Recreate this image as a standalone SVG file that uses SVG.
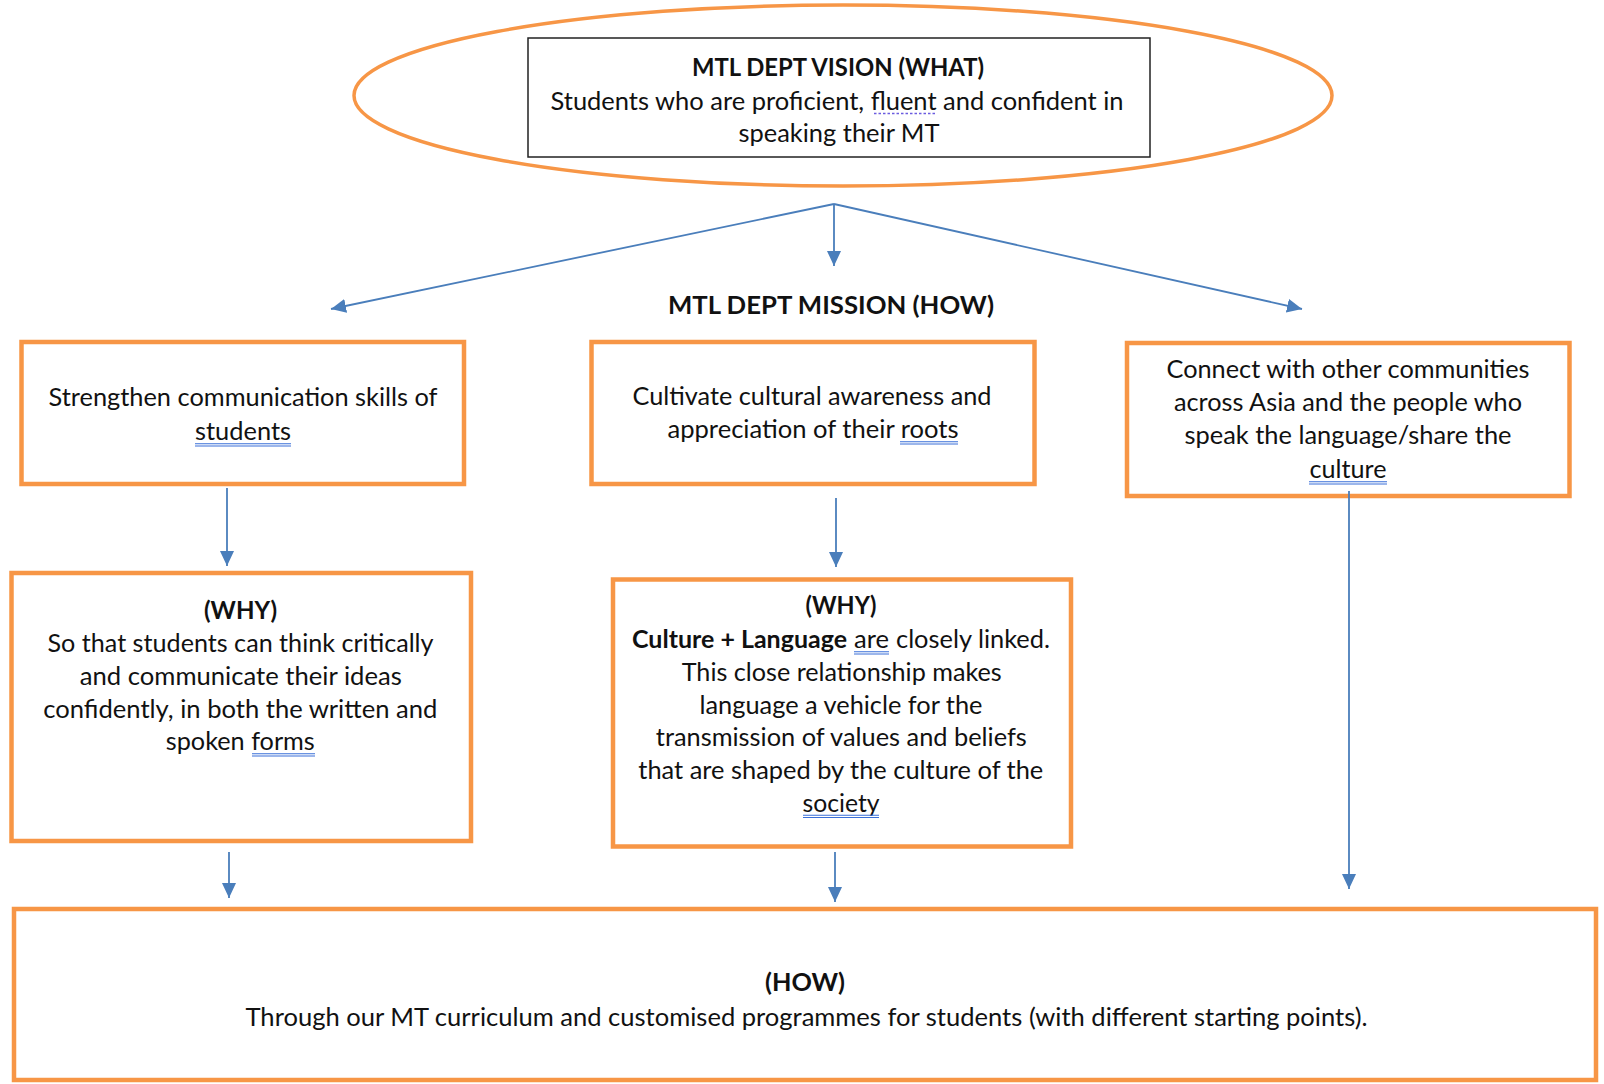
<svg xmlns="http://www.w3.org/2000/svg" width="1604" height="1084" viewBox="0 0 1604 1084">
<style>
.box{fill:#fff;stroke:#F79646;stroke-width:4.5}
.t{font-family:Lato,"Open Sans","Liberation Sans",sans-serif;font-size:25px;fill:#111;text-anchor:middle}
.b{font-weight:bold}
.s{text-anchor:start}
.ul{stroke:#3A6FD8;stroke-width:1.1;fill:none}
.con{stroke:#4A7EBB;stroke-width:1.8;fill:none;marker-end:url(#ah)}
</style>
<defs>
<marker id="ah" markerUnits="userSpaceOnUse" markerWidth="15" markerHeight="14" refX="15" refY="7" orient="auto">
<path d="M0,0 L15,7 L0,14 z" fill="#4A7EBB"/>
</marker>
</defs>
<rect width="1604" height="1084" fill="#fff"/>

<g id="vision">
<ellipse cx="843" cy="95.5" rx="489" ry="90.5" fill="#fff" stroke="#F79646" stroke-width="3.5"/>
<rect x="528" y="38" width="622" height="119" fill="#fff" stroke="#222" stroke-width="1.5"/>
<text class="t b" x="838" y="76" textLength="292" lengthAdjust="spacingAndGlyphs">MTL DEPT VISION (WHAT)</text>
<text class="t" x="837" y="109.5" textLength="573" lengthAdjust="spacingAndGlyphs">Students who are proficient, fluent and confident in</text>
<text class="t" x="839" y="141.5" textLength="201" lengthAdjust="spacingAndGlyphs">speaking their MT</text>
<line x1="874" y1="113.5" x2="937" y2="113.5" stroke="#6B5CE0" stroke-width="1.6" stroke-dasharray="2.5,2"/>
</g>

<g id="mission-title">
<text class="t b" x="831" y="314" font-size="26" textLength="326" lengthAdjust="spacingAndGlyphs">MTL DEPT MISSION (HOW)</text>
</g>

<g id="mission1">
<rect class="box" x="21.5" y="342" width="442.5" height="142"/>
<text class="t" x="243" y="406" textLength="389" lengthAdjust="spacingAndGlyphs">Strengthen communication skills of</text>
<text class="t" x="243" y="440" textLength="96" lengthAdjust="spacingAndGlyphs">students</text>
<path class="ul" d="M195,443.8H291M195,446H291"/>
</g>

<g id="mission2">
<rect class="box" x="591.5" y="342" width="443" height="142"/>
<text class="t" x="812" y="405" textLength="359" lengthAdjust="spacingAndGlyphs">Cultivate cultural awareness and</text>
<text class="t" x="813" y="438" textLength="291" lengthAdjust="spacingAndGlyphs">appreciation of their roots</text>
<path class="ul" d="M900,441.8H958M900,444H958"/>
</g>

<g id="mission3">
<rect class="box" x="1127" y="343" width="442.5" height="153"/>
<text class="t" x="1348" y="378" textLength="363" lengthAdjust="spacingAndGlyphs">Connect with other communities</text>
<text class="t" x="1348" y="411" textLength="348" lengthAdjust="spacingAndGlyphs">across Asia and the people who</text>
<text class="t" x="1348" y="444" textLength="327" lengthAdjust="spacingAndGlyphs">speak the language/share the</text>
<text class="t" x="1348" y="478" textLength="77" lengthAdjust="spacingAndGlyphs">culture</text>
<path class="ul" d="M1309,481.8H1387M1309,484H1387"/>
</g>

<g id="why1">
<rect class="box" x="11.5" y="573" width="459.5" height="268"/>
<text class="t b" x="240.5" y="619" textLength="73" lengthAdjust="spacingAndGlyphs">(WHY)</text>
<text class="t" x="240.5" y="652" textLength="386" lengthAdjust="spacingAndGlyphs">So that students can think critically</text>
<text class="t" x="240.8" y="684.5" textLength="322" lengthAdjust="spacingAndGlyphs">and communicate their ideas</text>
<text class="t" x="240.3" y="717.5" textLength="394" lengthAdjust="spacingAndGlyphs">confidently, in both the written and</text>
<text class="t" x="240.3" y="750" textLength="149" lengthAdjust="spacingAndGlyphs">spoken forms</text>
<path class="ul" d="M252,753.8H315M252,756H315"/>
</g>

<g id="why2">
<rect class="box" x="613" y="579.5" width="458" height="267"/>
<text class="t b" x="841" y="614" textLength="71" lengthAdjust="spacingAndGlyphs">(WHY)</text>
<text class="t b s" x="632" y="648" textLength="215" lengthAdjust="spacingAndGlyphs">Culture + Language</text>
<text class="t s" x="854" y="648" textLength="35" lengthAdjust="spacingAndGlyphs">are</text>
<text class="t s" x="896" y="648" textLength="154" lengthAdjust="spacingAndGlyphs">closely linked.</text>
<path class="ul" d="M854,651.8H889M854,654H889"/>
<text class="t" x="841.7" y="680.5" textLength="320" lengthAdjust="spacingAndGlyphs">This close relationship makes</text>
<text class="t" x="841" y="713.5" textLength="283" lengthAdjust="spacingAndGlyphs">language a vehicle for the</text>
<text class="t" x="841.3" y="746" textLength="371" lengthAdjust="spacingAndGlyphs">transmission of values and beliefs</text>
<text class="t" x="840.8" y="779" textLength="405" lengthAdjust="spacingAndGlyphs">that are shaped by the culture of the</text>
<text class="t" x="841" y="811.5" textLength="77" lengthAdjust="spacingAndGlyphs">society</text>
<path class="ul" d="M803,815.3H879M803,817.5H879"/>
</g>

<g id="how">
<rect class="box" x="14" y="909" width="1582" height="171"/>
<text class="t b" x="805" y="991" textLength="80" lengthAdjust="spacingAndGlyphs">(HOW)</text>
<text class="t" x="806.5" y="1026" textLength="1122" lengthAdjust="spacingAndGlyphs">Through our MT curriculum and customised programmes for students (with different starting points).</text>
</g>

<g id="connectors">
<line class="con" x1="834" y1="204" x2="331" y2="309"/>
<line class="con" x1="834" y1="204" x2="834" y2="266"/>
<line class="con" x1="834" y1="204" x2="1302" y2="309"/>
<line class="con" x1="227" y1="488" x2="227" y2="566"/>
<line class="con" x1="836" y1="498" x2="836" y2="567"/>
<line class="con" x1="1349" y1="491" x2="1349" y2="889"/>
<line class="con" x1="229" y1="852" x2="229" y2="898"/>
<line class="con" x1="835" y1="852" x2="835" y2="902"/>
</g>
</svg>
